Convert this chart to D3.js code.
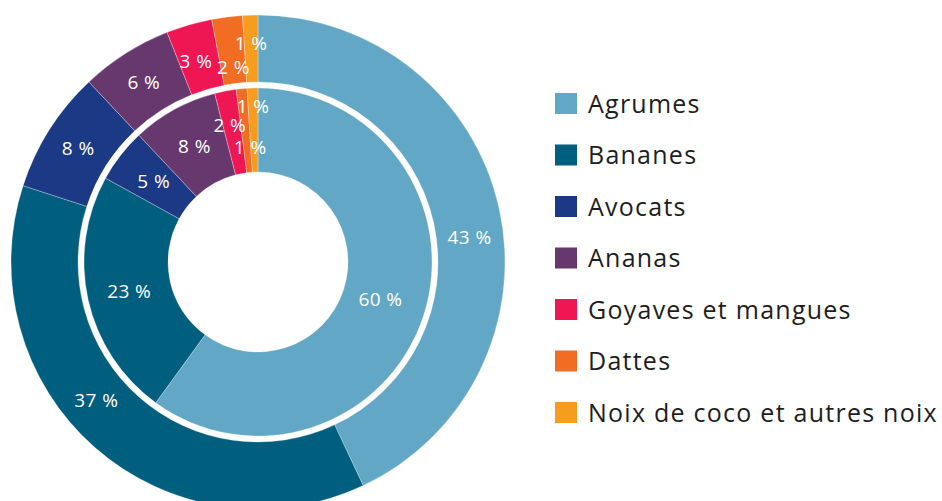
<!DOCTYPE html>
<html><head><meta charset="utf-8">
<script src="https://cdn.jsdelivr.net/npm/d3@7"></script>
<style>html,body{margin:0;padding:0;background:#fff;} svg{display:block;}</style>
</head><body>
<svg id="chart" width="942" height="501"></svg>
<script>
const categories = ["Agrumes","Bananes","Avocats","Ananas","Goyaves et mangues","Dattes","Noix de coco et autres noix"];
const outerValues = [43,37,8,6,3,2,1];
const innerValues = [60,23,5,8,2,1,1];
const colors = ["#62A7C5","#005E7E","#1B3984","#67386E","#EE1653","#F26D24","#F69D20"];
// label placement tweaks (angle shift in degrees, radius)
const outerLabelShift = [6,8,0,0,-1,0,0];
const outerLabelRadius = [213,213,213,213,210,196,219];
const innerLabelShift = [-1,0,0,0,-0.8,1.5,0];
const innerLabelRadius = [128,132,132,132,140,115,156];

const FONT = "'Open Sans', 'Noto Sans', sans-serif";
const svg = d3.select("#chart");
const cx = 258, cy = 262;
const g = svg.append("g").attr("transform", `translate(${cx},${cy})`);

const pie = d3.pie().sort(null).value(d => d);
const outerArc = d3.arc().innerRadius(180).outerRadius(247);
const innerArc = d3.arc().innerRadius(90).outerRadius(174);

function drawRing(values, arc, shifts, radii) {
  const arcs = pie(values);
  g.append("g").selectAll("path").data(arcs).join("path")
    .attr("d", arc)
    .attr("fill", (d,i) => colors[i])
    .attr("stroke", "#fff").attr("stroke-width", 0.3);
  g.append("g").selectAll("text").data(arcs).join("text")
    .attr("transform", (d,i) => {
      const a = (d.startAngle + d.endAngle)/2 + shifts[i]*Math.PI/180;
      const r = radii[i];
      return `translate(${r*Math.sin(a)},${-r*Math.cos(a)})`;
    })
    .attr("text-anchor","middle").attr("dy","0.36em")
    .attr("fill","#fff")
    .style("font-family", FONT)
    .style("font-size","19px")
    .style("letter-spacing","0.4px")
    .text(d => d.data + " %");
}
drawRing(outerValues, outerArc, outerLabelShift, outerLabelRadius);
drawRing(innerValues, innerArc, innerLabelShift, innerLabelRadius);

// legend
const legend = svg.append("g").attr("transform","translate(555,93)");
const rows = legend.selectAll("g").data(categories).join("g")
  .attr("transform",(d,i)=>`translate(0,${i*51.5})`);
rows.append("rect").attr("width",22).attr("height",21).attr("fill",(d,i)=>colors[i]);
rows.append("text").attr("x",33).attr("y",10.5).attr("dy","0.36em")
  .attr("fill","#1e1e1e")
  .style("font-family", FONT)
  .style("font-size","25px")
  .style("letter-spacing","1.25px")
  .text(d=>d);
</script>
</body></html>
